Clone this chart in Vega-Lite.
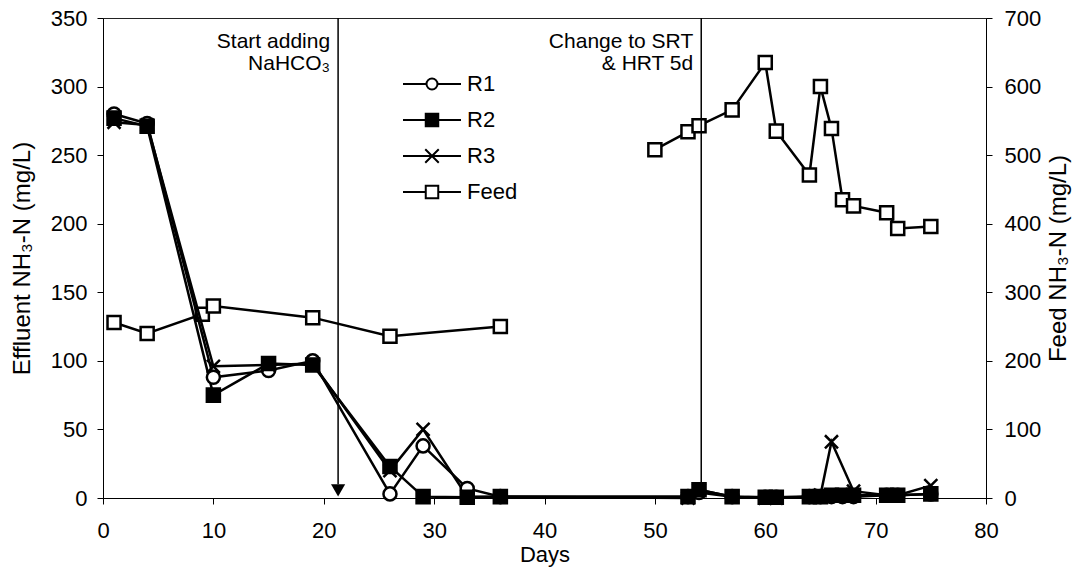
{
  "$schema": "https://vega.github.io/schema/vega-lite/v6.json",
  "width": 883,
  "height": 480,
  "autosize": {"type": "none"},
  "padding": {"left": 103, "top": 18, "right": 88, "bottom": 76},
  "background": "white",
  "config": {
    "font": "Liberation Sans",
    "view": {"stroke": "#222", "strokeWidth": 1},
    "axis": {
      "labelFont": "Liberation Sans", "labelFontSize": 22, "labelColor": "black",
      "titleFont": "Liberation Sans", "titleFontSize": 22, "titleFontWeight": "normal", "titleColor": "black",
      "domainColor": "black", "tickColor": "black", "tickSize": 6, "grid": false,
      "domainWidth": 1, "tickWidth": 1
    }
  },
  "datasets": {
    "effluent": [
      {"day": 1, "series": "R1", "value": 280}, {"day": 4, "series": "R1", "value": 273}, {"day": 10, "series": "R1", "value": 88}, {"day": 15, "series": "R1", "value": 93}, {"day": 19, "series": "R1", "value": 100}, {"day": 26, "series": "R1", "value": 3}, {"day": 29, "series": "R1", "value": 38}, {"day": 33, "series": "R1", "value": 7}, {"day": 36, "series": "R1", "value": 1}, {"day": 53, "series": "R1", "value": 1}, {"day": 54, "series": "R1", "value": 4}, {"day": 57, "series": "R1", "value": 1}, {"day": 60, "series": "R1", "value": 0.5}, {"day": 61, "series": "R1", "value": 0.5}, {"day": 64, "series": "R1", "value": 1}, {"day": 65, "series": "R1", "value": 1}, {"day": 66, "series": "R1", "value": 1}, {"day": 67, "series": "R1", "value": 1}, {"day": 68, "series": "R1", "value": 1}, {"day": 71, "series": "R1", "value": 2}, {"day": 72, "series": "R1", "value": 2}, {"day": 75, "series": "R1", "value": 3},
      {"day": 1, "series": "R2", "value": 277}, {"day": 4, "series": "R2", "value": 271}, {"day": 10, "series": "R2", "value": 75}, {"day": 15, "series": "R2", "value": 98}, {"day": 19, "series": "R2", "value": 97}, {"day": 26, "series": "R2", "value": 23}, {"day": 29, "series": "R2", "value": 1}, {"day": 33, "series": "R2", "value": 0.5}, {"day": 36, "series": "R2", "value": 1}, {"day": 53, "series": "R2", "value": 1}, {"day": 54, "series": "R2", "value": 6}, {"day": 57, "series": "R2", "value": 1}, {"day": 60, "series": "R2", "value": 0.5}, {"day": 61, "series": "R2", "value": 0.5}, {"day": 64, "series": "R2", "value": 1}, {"day": 65, "series": "R2", "value": 1}, {"day": 66, "series": "R2", "value": 2}, {"day": 67, "series": "R2", "value": 2}, {"day": 68, "series": "R2", "value": 2}, {"day": 71, "series": "R2", "value": 2}, {"day": 72, "series": "R2", "value": 2}, {"day": 75, "series": "R2", "value": 3},
      {"day": 1, "series": "R3", "value": 274}, {"day": 4, "series": "R3", "value": 272}, {"day": 10, "series": "R3", "value": 96}, {"day": 15, "series": "R3", "value": 97}, {"day": 19, "series": "R3", "value": 98}, {"day": 26, "series": "R3", "value": 20}, {"day": 29, "series": "R3", "value": 50}, {"day": 33, "series": "R3", "value": 1}, {"day": 36, "series": "R3", "value": 1}, {"day": 53, "series": "R3", "value": 0}, {"day": 54, "series": "R3", "value": 6}, {"day": 57, "series": "R3", "value": 1}, {"day": 60, "series": "R3", "value": 0}, {"day": 61, "series": "R3", "value": 0}, {"day": 64, "series": "R3", "value": 1}, {"day": 65, "series": "R3", "value": 2}, {"day": 66, "series": "R3", "value": 41}, {"day": 68, "series": "R3", "value": 5}, {"day": 71, "series": "R3", "value": 2}, {"day": 72, "series": "R3", "value": 2}, {"day": 75, "series": "R3", "value": 9}
    ],
    "feed": [
      {"day": 1, "series": "Feed", "seg": "a", "value": 256}, {"day": 4, "series": "Feed", "seg": "a", "value": 240}, {"day": 9, "series": "Feed", "seg": "a", "value": 268}, {"day": 10, "series": "Feed", "seg": "a", "value": 280}, {"day": 19, "series": "Feed", "seg": "a", "value": 263}, {"day": 26, "series": "Feed", "seg": "a", "value": 236}, {"day": 36, "series": "Feed", "seg": "a", "value": 250},
      {"day": 50, "series": "Feed", "seg": "b", "value": 508}, {"day": 53, "series": "Feed", "seg": "b", "value": 534}, {"day": 54, "series": "Feed", "seg": "b", "value": 543}, {"day": 57, "series": "Feed", "seg": "b", "value": 566}, {"day": 60, "series": "Feed", "seg": "b", "value": 635}, {"day": 61, "series": "Feed", "seg": "b", "value": 535}, {"day": 64, "series": "Feed", "seg": "b", "value": 471}, {"day": 65, "series": "Feed", "seg": "b", "value": 600}, {"day": 66, "series": "Feed", "seg": "b", "value": 539}, {"day": 67, "series": "Feed", "seg": "b", "value": 435}, {"day": 68, "series": "Feed", "seg": "b", "value": 426}, {"day": 71, "series": "Feed", "seg": "b", "value": 416}, {"day": 72, "series": "Feed", "seg": "b", "value": 393}, {"day": 75, "series": "Feed", "seg": "b", "value": 396}
    ],
    "events": [
      {"day": 21.3, "value": 350, "bottom": 10, "label": "Start adding\nNaHCO₃"},
      {"day": 54.2, "value": 350, "bottom": 7, "label": "Change to SRT\n& HRT 5d"}
    ],
    "arrows": [
      {"day": 21.3, "value": 5.5}
    ]
  },
  "encoding": {
    "x": {
      "field": "day", "type": "quantitative",
      "scale": {"domain": [0, 80], "nice": false},
      "axis": {"values": [0, 10, 20, 30, 40, 50, 60, 70, 80], "title": "Days", "labelPadding": 16, "titlePadding": 3, "labelFlush": false}
    }
  },
  "layer": [
    {
      "data": {"name": "feed"},
      "encoding": {
        "y": {
          "field": "value", "type": "quantitative",
          "scale": {"domain": [0, 700], "nice": false},
          "axis": {"orient": "right", "values": [0, 100, 200, 300, 400, 500, 600, 700], "title": "Feed NH₃-N (mg/L)", "titleFontSize": 24, "titleAngle": 270, "titleX": 72, "titleY": 240, "titleAlign": "center", "titleBaseline": "middle", "labelPadding": 12}
        }
      },
      "layer": [
        {"mark": {"type": "line", "color": "black", "strokeWidth": 2.5}, "encoding": {"detail": {"field": "seg"}}},
        {"mark": {"type": "point", "shape": "square", "stroke": "black", "fill": "white", "strokeWidth": 2.5, "size": 170, "opacity": 1}}
      ]
    },
    {
      "encoding": {
        "y": {
          "field": "value", "type": "quantitative",
          "scale": {"domain": [0, 350], "nice": false},
          "axis": {"orient": "left", "values": [0, 50, 100, 150, 200, 250, 300, 350], "title": "Effluent NH₃-N (mg/L)", "titleFontSize": 24, "labelPadding": 10, "titlePadding": 16}
        }
      },
      "layer": [
        {
          "data": {"name": "events"},
          "mark": {"type": "rule", "color": "black", "strokeWidth": 1.5},
          "encoding": {"y2": {"field": "bottom"}}
        },
        {
          "data": {"name": "arrows"},
          "mark": {"type": "point", "shape": "triangle-down", "size": 200, "filled": true, "color": "black", "opacity": 1}
        },
        {
          "data": {"name": "events"},
          "mark": {"type": "text", "align": "right", "baseline": "alphabetic", "dx": -8, "dy": 30, "fontSize": 21, "font": "Liberation Sans", "lineBreak": "\n", "lineHeight": 22, "color": "black"},
          "encoding": {"text": {"field": "label"}}
        },
        {
          "data": {"name": "effluent"},
          "mark": {"type": "line", "color": "black", "strokeWidth": 2.5},
          "encoding": {"detail": {"field": "series"}}
        },
        {
          "data": {"name": "effluent"},
          "mark": {"type": "point", "stroke": "black", "strokeWidth": 2.5, "size": 170, "opacity": 1},
          "encoding": {
            "shape": {
              "field": "series", "type": "nominal",
              "scale": {"domain": ["R1", "R2", "R3"], "range": ["circle", "square", "M-1,-1L1,1M-1,1L1,-1"]},
              "legend": null
            },
            "fill": {
              "field": "series", "type": "nominal",
              "scale": {"domain": ["R1", "R2", "R3"], "range": ["white", "black", "white"]},
              "legend": null
            }
          }
        }
      ]
    },
    {
      "data": {"name": "feed"},
      "transform": [{"filter": "datum.day < 0"}],
      "mark": {"type": "point", "stroke": "black", "strokeWidth": 2, "size": 100, "opacity": 1},
      "encoding": {
        "shape": {
          "field": "series", "type": "nominal",
          "scale": {"domain": ["R1", "R2", "R3", "Feed"], "range": [
            "M-5.8,0H-1.1M1.1,0H5.8M-1.1,0A1.1,1.1 0 1,0 1.1,0A1.1,1.1 0 1,0 -1.1,0Z",
            "M-5.8,0H-1.25M1.25,0H5.8M-1.25,-1.25H1.25V1.25H-1.25Z",
            "M-5.8,0H5.8M-1.35,-1.35L1.35,1.35M-1.35,1.35L1.35,-1.35",
            "M-5.8,0H-1.25M1.25,0H5.8M-1.25,-1.25H1.25V1.25H-1.25Z"
          ]},
          "legend": {
            "title": null, "orient": "none", "legendX": 318, "legendY": 55, "padding": 0,
            "symbolSize": 100, "symbolStrokeWidth": 2, "symbolOpacity": 1,
            "labelFontSize": 22, "labelFont": "Liberation Sans", "labelColor": "black",
            "labelOffset": 24, "rowPadding": 14
          }
        },
        "fill": {
          "field": "series", "type": "nominal",
          "scale": {"domain": ["R1", "R2", "R3", "Feed"], "range": ["white", "black", "white", "white"]},
          "legend": null
        }
      }
    }
  ],
  "resolve": {"scale": {"y": "independent", "shape": "independent", "fill": "independent"}}
}
